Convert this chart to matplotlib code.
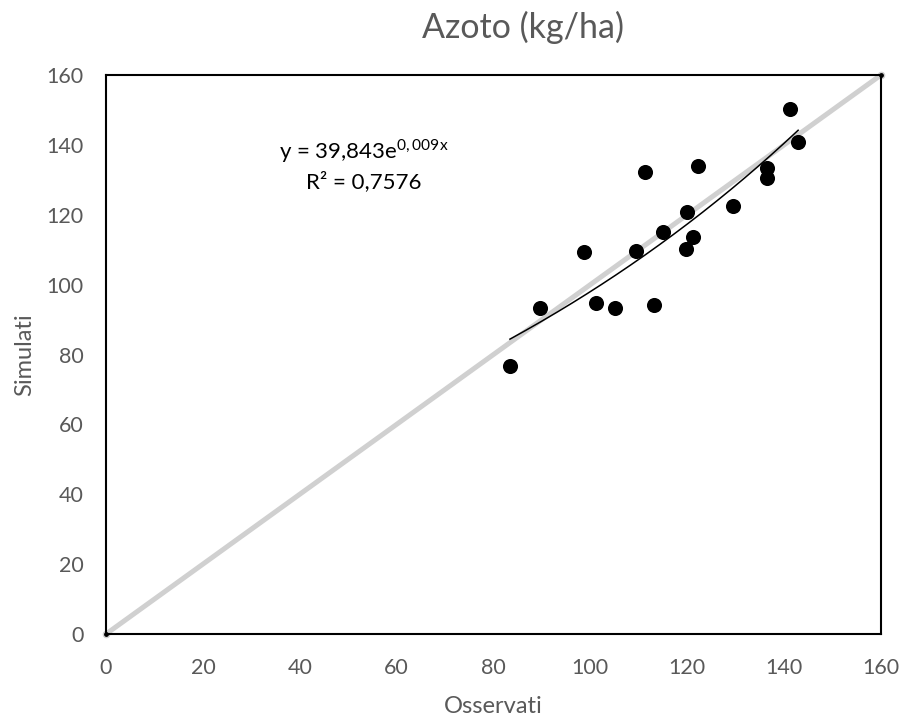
import numpy as np
import matplotlib
matplotlib.use("Agg")
import matplotlib.pyplot as plt

plt.rcParams['font.family'] = ['Lato', 'DejaVu Sans']
plt.rcParams['mathtext.fontset'] = 'custom'
plt.rcParams['mathtext.rm'] = 'Lato'

# Observed vs simulated nitrogen (kg/ha)
osservati = [83.4, 89.7, 98.7, 101.2, 105.1, 109.4, 111.3, 113.1, 114.9,
             119.7, 120.0, 121.2, 122.3, 129.5, 136.4, 136.4, 141.2, 142.9]
simulati = [76.7, 93.4, 109.4, 94.8, 93.4, 109.7, 132.1, 94.2, 115.1,
            110.2, 120.7, 113.7, 134.0, 122.6, 133.3, 130.4, 150.2, 140.8]

# 1:1 reference line
bisettrice_x = [0, 160]
bisettrice_y = [0, 160]

# Exponential trend y = a * exp(b x)
trend_a = 39.843
trend_b = 0.009
r2 = 0.7576

ticks = [0, 20, 40, 60, 80, 100, 120, 140, 160]
label_color = '#595959'

fig = plt.figure(figsize=(9.03, 7.19), dpi=100)
ax = fig.add_axes([0.1174, 0.1182, 0.9756 - 0.1174, 0.8957 - 0.1182])

ax.plot(bisettrice_x, bisettrice_y, color='#d0d0d0', lw=3.6, zorder=1,
        solid_capstyle='butt')
ax.plot(bisettrice_x, bisettrice_y, ls='none', marker='o', ms=4.5,
        mfc='black', mec='#d0d0d0', mew=1.0, zorder=2, clip_on=False)

ax.scatter(osservati, simulati, s=118, color='black', zorder=3, linewidths=0)

xt = np.linspace(min(osservati), max(osservati), 200)
ax.plot(xt, trend_a * np.exp(trend_b * xt), color='black', lw=1.1, zorder=4)

ax.set_xlim(0, 160)
ax.set_ylim(0, 160)
ax.set_xticks(ticks)
ax.set_yticks(ticks)
ax.tick_params(length=0, labelsize=15.5, labelcolor=label_color)
ax.tick_params(axis='x', pad=17)
ax.tick_params(axis='y', pad=16)
for s in ax.spines.values():
    s.set_color('black')
    s.set_linewidth(1.5)

fig.text(493 / 903, 1 - 713 / 719, 'Osservati', ha='center', va='baseline',
         fontsize=17, color=label_color)
fig.text(25 / 903, 1 - 355 / 719, 'Simulati', ha='center', va='center',
         rotation=90, fontsize=17, color=label_color)
fig.text(523 / 903, 1 - 38 / 719, 'Azoto (kg/ha)', ha='center',
         va='baseline', fontsize=24.5, color=label_color)

ax.text(53.3, 136.2, 'y = 39,843e$^{\\mathregular{0,009x}}$', ha='center',
        va='baseline', fontsize=16, color='black')
ax.text(53.3, 127.6, 'R² = 0,7576', ha='center', va='baseline',
        fontsize=16, color='black')

fig.savefig('out.png', dpi=100)
